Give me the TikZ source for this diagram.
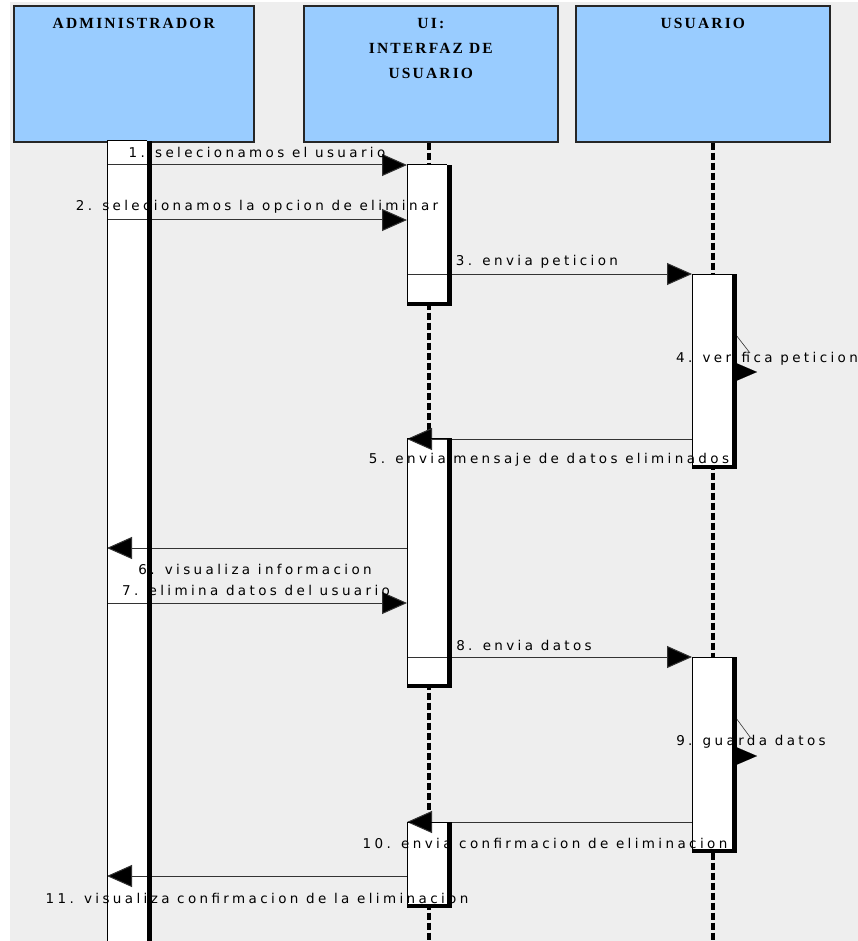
\documentclass[tikz,border=0pt]{standalone}
\usepackage{fontspec}
\newfontfamily\titlefont[LetterSpace=14]{Liberation Serif}
\newfontfamily\msgfont[LetterSpace=25]{DejaVu Sans}
\usetikzlibrary{arrows.meta, positioning}
\definecolor{boxblue}{HTML}{99CCFF}
\definecolor{canvas}{HTML}{EEEEEE}

\begin{document}
\begin{tikzpicture}[x=1pt, y=-1pt,
    obj/.style={draw=black!85, fill=boxblue, line width=1.6pt, anchor=north west, inner sep=0, minimum height=136pt},
    objtitle/.style={font={\titlefont\bfseries\fontsize{15.5}{25}\selectfont}, align=center, inner sep=0, anchor=north},
    lifeline/.style={line width=4pt, dash pattern=on 7pt off 3pt},
    actbar/.style={anchor=north west, inner sep=0, outer sep=0, minimum width=45pt},
    msg/.style={draw=black!80, line width=1pt, -{Triangle[length=25pt, width=22pt, fill=black]}},
    msgline/.style={draw=black!80, line width=0.6pt},
    lbl/.style={font={\msgfont\fontsize{13.5}{15}\selectfont}, inner sep=0},
    ]

    \useasboundingbox (0,0) rectangle (858,941);
    \fill[white] (0,0) rectangle (858,941);
    \fill[canvas] (10,2) rectangle (858,941);

    % objects
    \node[obj, minimum width=240pt] (adm) at (13,5) {};
    \node[obj, minimum width=254pt] (ui) at (303,5) {};
    \node[obj, minimum width=254pt] (usr) at (575,5) {};
    \node[objtitle, below=13pt of adm.north] (admt) {ADMINISTRADOR};
    \node[objtitle, below=13pt of ui.north] (uit) {UI:\\INTERFAZ DE\\USUARIO};
    \node[objtitle, below=13pt of usr.north] (usrt) {USUARIO};

    % lifelines
    \coordinate (uil) at (429,945);
    \coordinate (usl) at (713,945);
    \draw[lifeline] (uil |- ui.south) -- (uil);
    \draw[lifeline] (usl |- usr.south) -- (usl);

    % activation bars, white part first
    \foreach \n/\x/\t/\b in {adm1/107/141/950, ui1/407/165/306, ui2/407/438/688,
                             ui3/407/822/908, us1/692/274/469, us2/692/657/853}{
        \node[actbar, minimum height={(\b-\t)*1pt}] (\n) at (\x,\t) {};
        \fill[white] (\n.north west) rectangle ([xshift=-5pt, yshift=4pt]\n.south east);
    }

    % message rows
    \coordinate (r1) at (0,165);
    \coordinate (r2) at (0,220);
    \coordinate (r3) at (0,274);
    \coordinate (r5) at (0,439);
    \coordinate (r6) at (0,548);
    \coordinate (r7) at (0,603);
    \coordinate (r8) at (0,657);
    \coordinate (r10) at (0,822);
    \coordinate (r11) at (0,876);

    \draw[msg] (adm1.west |- r1) -- (ui1.west |- r1);
    \draw[msg] (adm1.west |- r2) -- (ui1.west |- r2);
    \draw[msg] (ui1.west |- r3) -- (us1.west |- r3);
    \draw[msg] (us1.west |- r5) -- (ui2.west |- r5);
    \draw[msg] (ui2.west |- r6) -- (adm1.west |- r6);
    \draw[msg] (adm1.west |- r7) -- (ui2.west |- r7);
    \draw[msg] (ui2.west |- r8) -- (us2.west |- r8);
    \draw[msg] (us2.west |- r10) -- (ui3.west |- r10);
    \draw[msg] (ui3.west |- r11) -- (adm1.west |- r11);

    % self calls
    \coordinate (s4a) at (736,335);
    \coordinate (s4b) at (750,353);
    \coordinate (s4c) at (736,372);
    \coordinate (s4d) at (757,372);
    \draw[msgline] (s4a) -- (s4b);
    \draw[line width=0.1pt, -{Triangle[length=21pt, width=18pt]}] (s4c) -- (s4d);

    \coordinate (s9a) at (736,718);
    \coordinate (s9b) at (750,737);
    \coordinate (s9c) at (736,756);
    \coordinate (s9d) at (757,756);
    \draw[msgline] (s9a) -- (s9b);
    \draw[line width=0.1pt, -{Triangle[length=21pt, width=18pt]}] (s9c) -- (s9d);

    % labels
    \node[lbl] (l1) at (257,152) {1. selecionamos el usuario};
    \node[lbl] (l2) at (257,207) {2. selecionamos la opcion de eliminar};
    \node[lbl] (l3) at (537,262) {3. envia peticion};
    \node[lbl] (l4) at (767,359) {4. verifica peticion};
    \node[lbl] (l5) at (549,460) {5. envia mensaje de datos eliminados};
    \node[lbl] (l6) at (255,569) {6. visualiza informacion};
    \node[lbl] (l7) at (256,590) {7. elimina datos del usuario};
    \node[lbl] (l8) at (524,645) {8. envia datos};
    \node[lbl] (l9) at (751,742) {9. guarda datos};
    \node[lbl] (l10) at (545,843) {10. envia confirmacion de eliminacion};
    \node[lbl] (l11) at (257,898) {11. visualiza confirmacion de la eliminacion};

    % bar edges: thin left/top, heavy right/bottom
    \foreach \n in {adm1, ui1, ui2, ui3, us1, us2}{
        \draw[line width=1pt] ([yshift=4pt]\n.south west) -- (\n.north west) -- ([xshift=-5pt]\n.north east);
        \fill ([xshift=-5pt]\n.north east) rectangle (\n.south east);
        \fill (\n.south west) rectangle ([yshift=4pt]\n.south east);
    }

\end{tikzpicture}
\end{document}
